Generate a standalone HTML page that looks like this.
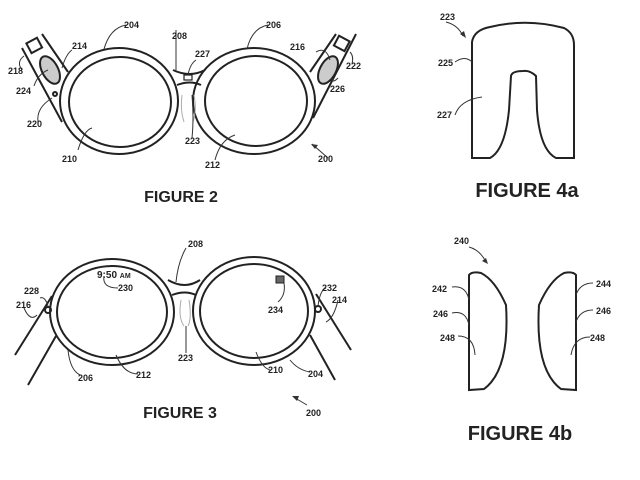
<!DOCTYPE html>
<html><head><style>body{margin:0;background:#fff}svg{display:block}text{font-family:"Liberation Sans",sans-serif;fill:#222}</style></head>
<body>
<svg width="640" height="480" viewBox="0 0 640 480" xmlns="http://www.w3.org/2000/svg">
<g fill="none" stroke="#222" stroke-width="2">
<!-- FIGURE 2 -->
<ellipse cx="119" cy="101" rx="59" ry="53"/>
<ellipse cx="120" cy="102" rx="51" ry="45"/>
<ellipse cx="254" cy="101" rx="61" ry="53"/>
<ellipse cx="256" cy="101" rx="51" ry="45"/>
<path d="M173,70 Q190,78 205,70"/>
<path d="M177,85 Q190,80 201,85"/>
<path d="M22,48 L62,122 M42,34 L68,72"/>
<path d="M356,34 L313,118 M336,34 L310,72"/>
<rect x="28" y="40" width="12" height="11" transform="rotate(-28 34 45)"/>
<rect x="336" y="38" width="12" height="11" transform="rotate(28 342 43)"/>
<ellipse cx="50" cy="70" rx="8" ry="15" transform="rotate(-28 50 70)" fill="#ccc"/>
<ellipse cx="328" cy="70" rx="8" ry="15" transform="rotate(28 328 70)" fill="#ccc"/>
<circle cx="55" cy="94" r="2"/>
<rect x="184" y="75" width="8" height="5" stroke-width="1.2"/>
<path d="M182,95 Q180,110 184,122 M194,95 Q197,110 193,122" stroke="#aaa" stroke-width="1"/>
<!-- FIGURE 3 -->
<ellipse cx="112" cy="312" rx="62" ry="53"/>
<ellipse cx="112" cy="312" rx="55" ry="46"/>
<ellipse cx="254" cy="311" rx="61" ry="54"/>
<ellipse cx="254" cy="311" rx="54" ry="47"/>
<path d="M168,280 Q185,290 200,280"/>
<path d="M172,295 Q185,290 196,295"/>
<path d="M15,355 L52,296 M28,385 L56,336"/>
<path d="M351,350 L316,294 M335,380 L310,335"/>
<circle cx="48" cy="310" r="3"/>
<circle cx="318" cy="309" r="3"/>
<path d="M181,300 Q178,318 184,326 M189,300 Q192,318 188,326" stroke="#aaa" stroke-width="1"/>
<rect x="276" y="276" width="8" height="7" fill="#666" stroke-width="1"/>
<!-- FIGURE 4a -->
<path d="M472,158 L472,42 Q474,30 490,27 Q527,18 564,28 Q574,33 574,45 L574,158 L556,158 Q540,150 537,110 L536,76 Q530,70 523,71 Q512,71 511,76 L509,110 Q505,150 490,158 Z"/>
<!-- FIGURE 4b -->
<path d="M469,390 L469,275 Q472,271 481,273 Q495,280 506,305 Q510,370 484,389 Z"/>
<path d="M576,390 L576,275 Q573,271 564,273 Q550,280 539,305 Q535,370 561,389 Z"/>
</g>
<!-- leader lines -->
<g fill="none" stroke="#333" stroke-width="1">
<path d="M104,49 Q110,28 126,25"/><path d="M247,49 Q252,28 268,25"/>
<path d="M176,30 L176,70"/><path d="M188,75 Q190,64 196,60"/>
<path d="M62,68 Q66,54 72,50"/><path d="M316,52 Q326,46 330,60"/>
<path d="M22,70 Q16,62 24,56"/><path d="M350,52 Q354,56 352,64"/>
<path d="M34,86 Q38,74 48,70"/><path d="M338,78 Q332,84 332,78"/>
<path d="M38,122 Q36,108 52,98"/>
<path d="M78,150 Q84,130 92,128"/><path d="M215,160 Q220,140 235,135"/>
<path d="M192,138 Q194,118 192,95"/>
<path d="M328,158 L312,144"/>
<path d="M176,282 Q178,262 186,248"/>
<path d="M104,276 Q102,288 118,288"/>
<path d="M284,283 Q286,295 278,302"/>
<path d="M40,298 Q45,296 48,306"/><path d="M37,315 Q30,322 24,308"/>
<path d="M326,288 Q320,290 318,306"/><path d="M338,300 Q334,318 326,322"/>
<path d="M80,375 Q70,370 68,350"/><path d="M138,374 Q124,374 116,355"/>
<path d="M270,370 Q262,368 256,352"/><path d="M310,372 Q298,370 290,360"/>
<path d="M186,353 Q186,340 186,326"/>
<path d="M307,405 L295,398"/>
<path d="M446,22 Q458,25 463,36"/><path d="M455,62 Q465,55 472,62"/><path d="M455,115 Q460,100 482,97"/>
<path d="M469,247 Q480,250 486,262"/>
<path d="M452,287 Q466,285 469,300"/><path d="M452,313 Q466,310 469,325"/><path d="M458,336 Q474,336 475,355"/>
<path d="M593,283 Q580,283 576,295"/><path d="M593,310 Q580,310 576,322"/><path d="M590,337 Q574,337 571,355"/>
</g>
<g fill="#333"><path d="M466,38 L460,34 L464,31 Z"/><path d="M488,264 L482,261 L486,258 Z"/><path d="M292,396 L299,396 L297,401 Z"/><path d="M311,144 L318,145 L315,149 Z"/></g>
<g font-size="9" font-weight="bold">
<text x="124" y="28">204</text><text x="266" y="28">206</text><text x="172" y="39">208</text>
<text x="195" y="57">227</text><text x="72" y="49">214</text><text x="290" y="50">216</text>
<text x="8" y="74">218</text><text x="346" y="69">222</text><text x="16" y="94">224</text>
<text x="330" y="92">226</text><text x="27" y="127">220</text><text x="185" y="144">223</text>
<text x="62" y="162">210</text><text x="205" y="168">212</text><text x="318" y="162">200</text>
<text x="188" y="247">208</text><text x="118" y="291">230</text><text x="24" y="294">228</text>
<text x="16" y="308">216</text><text x="322" y="291">232</text><text x="332" y="303">214</text>
<text x="268" y="313">234</text><text x="178" y="361">223</text><text x="78" y="381">206</text>
<text x="136" y="378">212</text><text x="268" y="373">210</text><text x="308" y="377">204</text>
<text x="306" y="416">200</text>
<text x="440" y="20">223</text><text x="438" y="66">225</text><text x="437" y="118">227</text>
<text x="454" y="244">240</text><text x="432" y="292">242</text><text x="433" y="317">246</text>
<text x="440" y="341">248</text><text x="596" y="287">244</text><text x="596" y="314">246</text><text x="590" y="341">248</text>
</g>
<text x="97" y="278" font-size="10" font-weight="bold">9:50 <tspan font-size="7">AM</tspan></text>
<g font-size="16" font-weight="bold" text-anchor="middle">
<text x="181" y="202">FIGURE 2</text><text x="180" y="418">FIGURE 3</text>
<text x="527" y="197" font-size="20">FIGURE 4a</text><text x="520" y="440" font-size="20">FIGURE 4b</text>
</g>
</svg>
</body></html>
